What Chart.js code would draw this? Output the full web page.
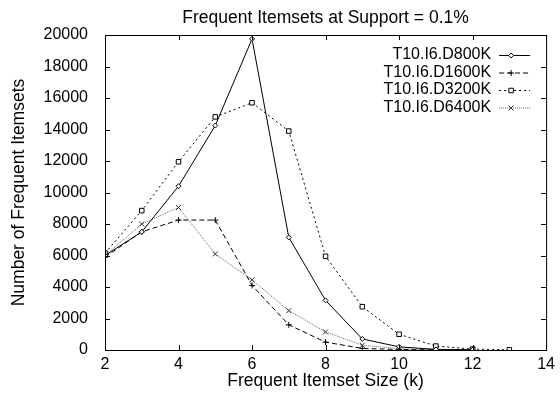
<!DOCTYPE html>
<html>
<head>
<meta charset="utf-8">
<script src="https://cdn.jsdelivr.net/npm/chart.js@4"></script>
<style>
  html, body { margin: 0; padding: 0; background: #fff; }
  #wrap { width: 560px; height: 393px; }
</style>
</head>
<body>
<div id="wrap"><canvas id="chart" width="560" height="393"></canvas></div>
<script>
// itemset sizes (k)
const sizes = [2, 3, 4, 5, 6, 7, 8, 9, 10, 11, 12, 13];

// number of frequent itemsets per dataset
const d800 = [6000, 7500, 10400, 14250, 19750, 7150, 3150, 700, 200, 40, 10];
const d1600 = [5900, 7500, 8250, 8250, 4100, 1600, 500, 100, 30, 5, 0];
const d3200 = [6150, 8850, 11950, 14800, 15700, 13900, 5950, 2750, 1000, 250, 60, 10];
const d6400 = [6000, 8000, 9050, 6100, 4450, 2500, 1150, 300, 80, 15, 5];

const seriesNames = ["T10.I6.D800K", "T10.I6.D1600K", "T10.I6.D3200K", "T10.I6.D6400K"];

const xTicks = [2, 4, 6, 8, 10, 12, 14];
const yTicks = [0, 2000, 4000, 6000, 8000, 10000, 12000, 14000, 16000, 18000, 20000];

const FONT = "'Liberation Sans', Arial, Helvetica, sans-serif";

const toPoints = (vals) => vals.map((v, i) => ({ x: sizes[i], y: v }));

// frame, inward ticks and the in-plot legend
const framePlugin = {
  id: "frame",
  afterDraw(chart) {
    const { ctx, chartArea: a, scales } = chart;
    ctx.save();
    ctx.strokeStyle = "#000";
    ctx.lineWidth = 1;
    ctx.setLineDash([]);
    ctx.strokeRect(a.left + 0.5, a.top + 0.5, a.right - a.left, a.bottom - a.top);

    const tl = 5;
    ctx.beginPath();
    xTicks.forEach((t) => {
      const px = Math.round(scales.x.getPixelForValue(t)) + 0.5;
      ctx.moveTo(px, a.bottom);
      ctx.lineTo(px, a.bottom - tl);
      ctx.moveTo(px, a.top);
      ctx.lineTo(px, a.top + tl);
    });
    yTicks.forEach((t) => {
      const py = Math.round(scales.y.getPixelForValue(t)) + 0.5;
      ctx.moveTo(a.left, py);
      ctx.lineTo(a.left + tl, py);
      ctx.moveTo(a.right, py);
      ctx.lineTo(a.right - tl, py);
    });
    ctx.stroke();

    // legend: text on the left, sample line on the right
    ctx.font = "16px " + FONT;
    ctx.textAlign = "right";
    ctx.textBaseline = "middle";
    chart.data.datasets.forEach((ds, i) => {
      const y = a.top + 20 + i * 17.5;
      ctx.fillStyle = "#000";
      ctx.fillText(ds.label, a.right - 55, y);
      ctx.strokeStyle = ds.borderColor;
      ctx.lineWidth = ds.borderWidth;
      ctx.setLineDash(ds.borderDash || []);
      ctx.beginPath();
      ctx.moveTo(a.right - 47, y + 0.5);
      ctx.lineTo(a.right - 16, y + 0.5);
      ctx.stroke();
      ctx.setLineDash([]);
      ctx.lineWidth = 1;
      ctx.strokeStyle = ds.pointBorderColor;
      ctx.fillStyle = ds.pointBackgroundColor;
      Chart.helpers.drawPoint(ctx, {
        pointStyle: ds.pointStyle,
        radius: ds.pointRadius,
        borderWidth: 1,
        rotation: 0
      }, a.right - 35, y + 0.5);
    });
    ctx.restore();
  }
};

const base = {
  fill: false,
  tension: 0,
  borderWidth: 1,
  pointBorderWidth: 1,
  pointHoverRadius: 0
};

new Chart(document.getElementById("chart"), {
  type: "line",
  data: {
    datasets: [
      {
        ...base,
        label: seriesNames[0],
        data: toPoints(d800),
        borderColor: "#000",
        pointStyle: "rectRot",
        pointRadius: 2.5,
        pointBorderColor: "#000",
        pointBackgroundColor: "#fff"
      },
      {
        ...base,
        label: seriesNames[1],
        data: toPoints(d1600),
        borderColor: "#000",
        borderDash: [5, 3],
        pointStyle: "cross",
        pointRadius: 3,
        pointBorderColor: "#000",
        pointBackgroundColor: "#000"
      },
      {
        ...base,
        label: seriesNames[2],
        data: toPoints(d3200),
        borderColor: "#000",
        borderDash: [2, 3],
        pointStyle: "rect",
        pointRadius: 3.2,
        pointBorderColor: "#000",
        pointBackgroundColor: "#fff"
      },
      {
        ...base,
        label: seriesNames[3],
        data: toPoints(d6400),
        borderColor: "#666",
        borderDash: [1, 1],
        pointStyle: "crossRot",
        pointRadius: 3.5,
        pointBorderColor: "#333",
        pointBackgroundColor: "#333"
      }
    ]
  },
  options: {
    responsive: false,
    animation: false,
    layout: { padding: { left: 0, right: 11, top: 0, bottom: 0 } },
    plugins: {
      legend: { display: false },
      tooltip: { enabled: false },
      title: {
        display: true,
        fullSize: false,
        text: "Frequent Itemsets at Support = 0.1%",
        color: "#000",
        font: { family: FONT, size: 17.5, weight: "normal", lineHeight: 1.2 },
        padding: { top: 8, bottom: 6 }
      }
    },
    scales: {
      x: {
        type: "linear",
        min: 2,
        max: 14,
        afterBuildTicks: (s) => { s.ticks = xTicks.map((v) => ({ value: v })); },
        afterFit: (s) => { s.height = 43; },
        grid: { display: false, drawTicks: false },
        border: { display: true, color: "#000", width: 1 },
        ticks: {
          color: "#000",
          padding: 5,
          maxRotation: 0,
          font: { family: FONT, size: 16 }
        },
        title: {
          display: true,
          text: "Frequent Itemset Size (k)",
          color: "#000",
          font: { family: FONT, size: 17.5, lineHeight: 1.2 },
          padding: { top: 0, bottom: 1.5 }
        }
      },
      y: {
        min: 0,
        max: 20000,
        afterBuildTicks: (s) => { s.ticks = yTicks.map((v) => ({ value: v })); },
        afterFit: (s) => { s.width = 105; },
        grid: { display: false, drawTicks: false },
        border: { display: true, color: "#000", width: 1 },
        ticks: {
          color: "#000",
          padding: 17,
          font: { family: FONT, size: 16 },
          callback: (v) => String(v)
        },
        title: {
          display: true,
          text: "Number of Frequent Itemsets",
          color: "#000",
          font: { family: FONT, size: 17.5, lineHeight: 1.2 },
          padding: { top: 8.5, bottom: 0 }
        }
      }
    }
  },
  plugins: [framePlugin]
});
</script>
</body>
</html>
